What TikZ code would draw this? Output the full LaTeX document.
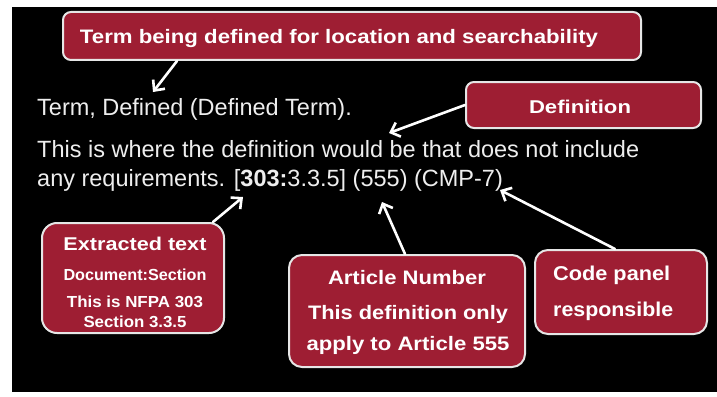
\documentclass[tikz,border=0pt]{standalone}
\usepackage{fontspec}
\usepackage{graphicx}
\setmainfont{Liberation Sans}
\usetikzlibrary{arrows.meta}

\definecolor{boxred}{RGB}{158,30,51}
\definecolor{rim}{RGB}{230,230,230}
\definecolor{paper}{RGB}{238,238,238}

% set a line of text to a given width, keeping its height
\newcommand\fitw[2]{\resizebox{#1}{\height}{#2}}
\newlength\lineone

\tikzset{
  callout/.style={draw=rim, line width=2pt, fill=boxred, rounded corners=#1, inner sep=0pt},
  callout/.default=10pt,
  boxline/.style={text=white, inner sep=0pt, anchor=base},
  bodyline/.style={text=paper, inner sep=0pt, anchor=base west},
  pointer/.style={draw=white, line width=2.6pt, line cap=round,
    -{Straight Barb[length=8pt, width=15pt, line width=2.6pt]}},
}

\begin{document}
% horizontal scale for the body font, taken from the longest line
\settowidth{\lineone}{\fontsize{23.5}{28}\selectfont This is where the definition would be that does not include}%
\pgfmathsetmacro\bodyscale{602/\lineone}%
\begin{tikzpicture}[x=1pt, y=-1pt]
  \useasboundingbox (0,0) rectangle (717,396);
  \fill[white] (0,0) rectangle (717,396);
  \fill[black] (12,7) rectangle (717,392);

  % the definition text
  \begin{scope}[font=\fontsize{23.5}{28}\selectfont]
    \node[bodyline] (term)  at (37,115) {\scalebox{\bodyscale}[1]{Term, Defined (Defined Term).}};
    \node[bodyline] (line1) at (37,157) {\scalebox{\bodyscale}[1]{This is where the definition would be that does not include}};
    \node[bodyline] (line2) at (37,186) {\scalebox{\bodyscale}[1]{any requirements. [\textbf{303:}3.3.5] (555) (CMP-7)}};
  \end{scope}

  % callout boxes
  \node[callout=8pt,  minimum width=578pt, minimum height=48pt]  (topbox)  at (352,36)    {};
  \node[callout=8pt,  minimum width=235pt, minimum height=46pt]  (defbox)  at (583.5,105) {};
  \node[callout=15pt, minimum width=182pt, minimum height=110pt] (exbox)   at (133,278)   {};
  \node[callout=13pt, minimum width=236pt, minimum height=112pt] (artbox)  at (407,311)   {};
  \node[callout=13pt, minimum width=172pt, minimum height=84pt]  (codebox) at (621,292)   {};

  % callout texts
  \begin{scope}[font=\bfseries]
    \node[boxline, font=\fontsize{19.5}{23}\selectfont\bfseries] (toptext) at (339,44)
      {\fitw{518pt}{Term being defined for location and searchability}};
    \node[boxline, font=\fontsize{18.5}{22}\selectfont\bfseries] (deftext) at (580,113.3)
      {\fitw{102pt}{Definition}};

    \node[boxline, font=\fontsize{18.5}{22}\selectfont\bfseries] (ex1) at (135,250)   {\fitw{143pt}{Extracted text}};
    \node[boxline, font=\fontsize{16}{19}\selectfont\bfseries]   (ex2) at (135,280.7) {\fitw{143pt}{Document:Section}};
    \node[boxline, font=\fontsize{16}{19}\selectfont\bfseries]   (ex3) at (135,307.7) {\fitw{136pt}{This is NFPA 303}};
    \node[boxline, font=\fontsize{16}{19}\selectfont\bfseries]   (ex4) at (135,327.7) {\fitw{103pt}{Section 3.3.5}};

    \node[boxline, font=\fontsize{19.5}{23}\selectfont\bfseries] (art1) at (407,284)   {\fitw{158pt}{Article Number}};
    \node[boxline, font=\fontsize{19.5}{23}\selectfont\bfseries] (art2) at (408,319.3) {\fitw{200pt}{This definition only}};
    \node[boxline, font=\fontsize{19.5}{23}\selectfont\bfseries] (art3) at (408,350)   {\fitw{203pt}{apply to Article 555}};

    \node[boxline, anchor=base west, font=\fontsize{20}{24}\selectfont\bfseries] (code1) at (553,280)   {\fitw{117pt}{Code panel}};
    \node[boxline, anchor=base west, font=\fontsize{20}{24}\selectfont\bfseries] (code2) at (553,316.7) {\fitw{120pt}{responsible}};
  \end{scope}

  % arrow targets in the definition text
  \coordinate (atTerm) at (153,92);
  \coordinate (atDef)  at (389,133);
  \coordinate (atDoc)  at (243,197);
  \coordinate (atArt)  at (382,202);
  \coordinate (atCmp)  at (500,190);

  % pointers
  \draw[pointer] ([xshift=115pt]topbox.south west) -- (atTerm);
  \draw[pointer] (defbox.west) -- (atDef);
  \draw[pointer] ([xshift=-12pt]exbox.north east) -- (atDoc);
  \draw[pointer] ([xshift=-2pt]artbox.north) -- (atArt);
  \draw[pointer] ([xshift=-6pt]codebox.north) -- (atCmp);
\end{tikzpicture}
\end{document}
